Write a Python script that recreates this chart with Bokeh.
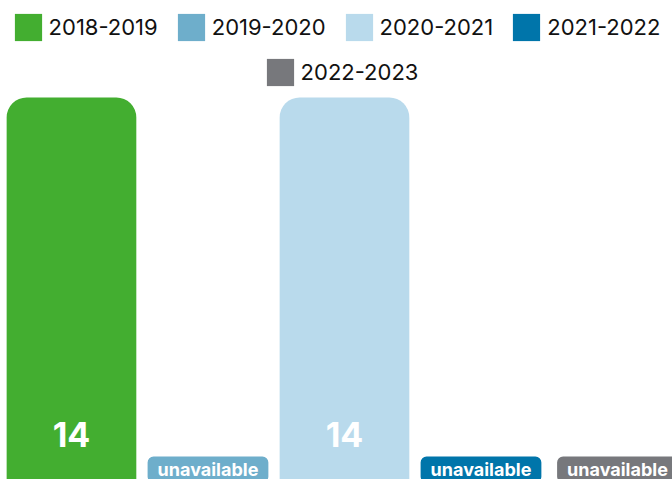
from bokeh.plotting import figure
from bokeh.models import ColumnDataSource, Legend, LegendItem, Range1d
from bokeh.embed import file_html
from bokeh.resources import INLINE
from bokeh.core.properties import value

years = ["2018-2019", "2019-2020", "2020-2021", "2021-2022", "2022-2023"]
counts = [14, None, 14, None, None]
colors = ["#43AE30", "#6EAECB", "#B9DAEC", "#0075AA", "#77787C"]
missing_text = "unavailable"

FONT = "Inter"
W, H = 672, 479

p = figure(width=W, height=H, output_backend="svg", toolbar_location=None,
           x_range=Range1d(-0.52, 4.403), y_range=Range1d(0, 17.555),
           x_axis_location=None, y_axis_location=None, min_border=0)
p.outline_line_color = None
p.background_fill_color = "white"
p.border_fill_color = "white"
p.xgrid.visible = False
p.ygrid.visible = False

renderers = []
for i, (yr, v, c) in enumerate(zip(years, counts, colors)):
    src = ColumnDataSource(dict(x=[i], top=[v if v is not None else float("nan")]))
    r = p.vbar(x="x", top="top", bottom=0, width=0.95, source=src,
               fill_color=c, line_color=None, border_radius=(20, 20, 0, 0))
    renderers.append(r)

lab_src = ColumnDataSource(dict(
    x=[i for i, v in enumerate(counts) if v is not None],
    y=[0 for v in counts if v is not None],
    t=[str(v) for v in counts if v is not None],
))
p.text(x="x", y="y", text="t", source=lab_src, text_color="white",
       text_font=value(FONT), text_font_size="34px", text_font_style="bold",
       text_align="center", text_baseline="middle", y_offset=-45)

na_src = ColumnDataSource(dict(
    x=[i for i, v in enumerate(counts) if v is None],
    y=[0 for v in counts if v is None],
    t=[missing_text for v in counts if v is None],
    bg=[colors[i] for i, v in enumerate(counts) if v is None],
))
p.text(x="x", y="y", text="t", source=na_src, text_color="white",
       text_font=value(FONT), text_font_size="18px", text_font_style="bold",
       text_align="center", text_baseline="middle", y_offset=-10,
       background_fill_color="bg", border_radius=6,
       padding=dict(left=10, right=10, top=2, bottom=3))

items = [LegendItem(label=yr, renderers=[r]) for yr, r in zip(years, renderers)]

def make_legend(its, loc):
    return Legend(items=its, orientation="horizontal", location=loc,
                  margin=0, padding=0, spacing=16, label_standoff=4,
                  glyph_width=34, glyph_height=34,
                  border_line_color=None, background_fill_alpha=0,
                  label_text_font=FONT, label_text_font_size="22px",
                  label_text_color="#111111")

p.add_layout(make_legend(items[:4], (10.6, H - 43.6)))
p.add_layout(make_legend(items[4:], (262.6, H - 88.6)))

open("out.html", "w").write(file_html(p, INLINE))
